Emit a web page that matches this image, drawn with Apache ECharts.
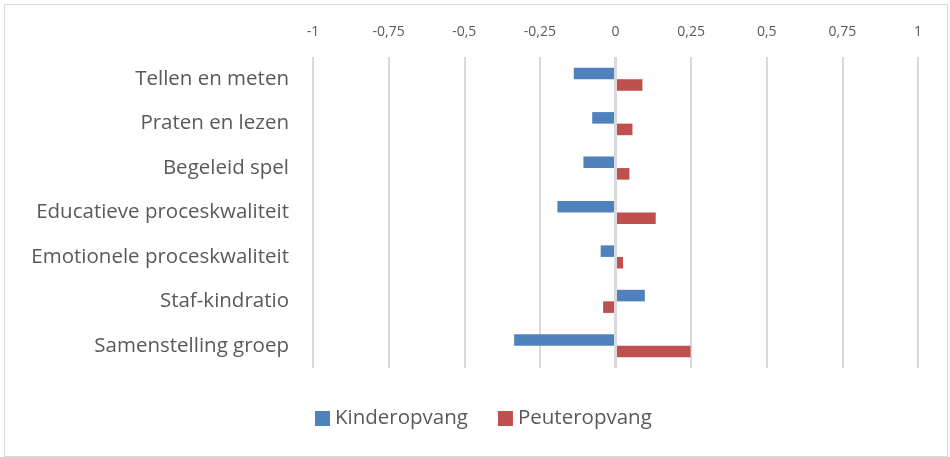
<!DOCTYPE html>
<html>
<head>
<meta charset="utf-8">
<script src="https://cdn.jsdelivr.net/npm/echarts@6/dist/echarts.min.js"></script>
<style>
  html, body { margin: 0; padding: 0; background: #fff; }
  #chart { position: absolute; left: 4px; top: 4px; width: 942px; height: 451px; border: 1px solid #d9d9d9; }
</style>
</head>
<body>
<div id="chart"></div>
<script>
// categories (top to bottom)
const categories = ['Tellen en meten', 'Praten en lezen', 'Begeleid spel', 'Educatieve proceskwaliteit',
  'Emotionele proceskwaliteit', 'Staf-kindratio', 'Samenstelling groep'];
const kinderopvang = [-0.138, -0.077, -0.106, -0.192, -0.049, 0.097, -0.335];
const peuteropvang = [0.089, 0.056, 0.046, 0.133, 0.025, -0.041, 0.248];

document.addEventListener('DOMContentLoaded', function() {
    const myChart = echarts.init(document.getElementById('chart'));
    const textColor = '#595959';
    const font = 'Open Sans';

    const option = {
        animation: false,
        backgroundColor: '#fff',
        grid: { left: 308, right: 29, top: 52, bottom: 88, containLabel: false },
        legend: {
            bottom: 22,
            left: 305,
            itemWidth: 15,
            itemHeight: 15,
            itemGap: 30,
            icon: 'rect',
            textStyle: { color: textColor, fontSize: 20.5, fontFamily: font },
            data: ['Kinderopvang', 'Peuteropvang']
        },
        xAxis: {
            type: 'value',
            position: 'top',
            min: -1,
            max: 1,
            interval: 0.25,
            axisLine: { show: false },
            axisTick: { show: false },
            axisLabel: {
                color: textColor,
                fontSize: 14,
                fontFamily: font,
                margin: 18,
                formatter: v => String(Math.round(v * 100) / 100).replace('.', ',')
            },
            splitLine: { lineStyle: { color: '#d9d9d9', width: 2 } }
        },
        yAxis: {
            type: 'category',
            inverse: true,
            data: categories,
            axisLine: { show: false },
            axisTick: { show: false },
            axisLabel: { color: textColor, fontSize: 20.5, fontFamily: font, margin: 24 }
        },
        series: [
            {
                name: 'Kinderopvang',
                type: 'bar',
                data: kinderopvang,
                barGap: '0%',
                barCategoryGap: '48%',
                itemStyle: { color: '#4f81bd' },
                markLine: {
                    silent: true,
                    symbol: 'none',
                    label: { show: false },
                    lineStyle: { color: '#d9d9d9', width: 3, type: 'solid' },
                    data: [{ xAxis: 0 }]
                }
            },
            {
                name: 'Peuteropvang',
                type: 'bar',
                data: peuteropvang,
                itemStyle: { color: '#c0504d' }
            }
        ]
    };
    myChart.setOption(option);
    window.addEventListener('resize', () => myChart.resize());
});
</script>
</body>
</html>
